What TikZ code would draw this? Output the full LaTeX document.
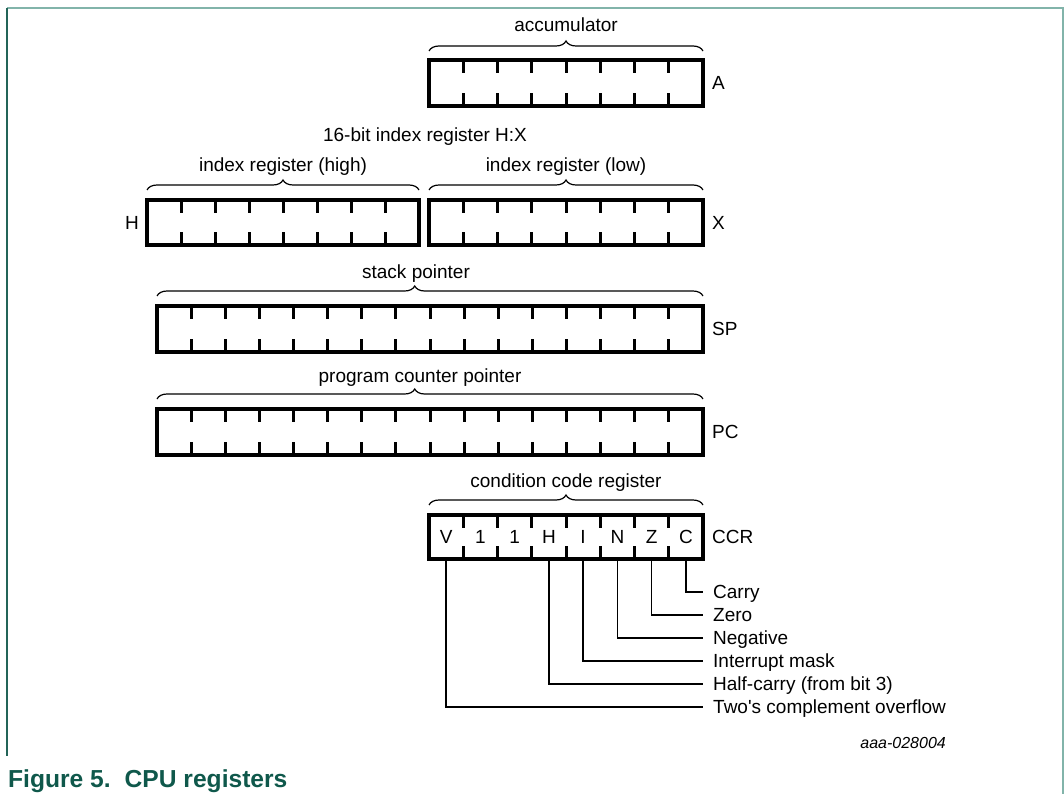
\documentclass[tikz,border=0pt]{standalone}
\usepackage{fontspec}
\setmainfont{Liberation Sans}
\newfontfamily\lsans{Liberation Sans}
\usetikzlibrary{calc,decorations.pathreplacing}
\definecolor{nxpdark}{RGB}{15,88,75}
\definecolor{framelight}{RGB}{130,180,170}
\definecolor{frameleft}{RGB}{35,100,88}
\tikzset{
 reg/.style={draw, line width=3.3pt, minimum height=46pt, inner sep=0pt, outer sep=0pt},
 regtick/.style={line width=3pt},
 brc/.style={decorate, decoration={brace, amplitude=10pt, #1}, line width=1.2pt},
 brc/.default={aspect=0.5},
 lbl/.style={font=\lsans\fontsize{19}{23}\selectfont, inner sep=0pt, anchor=base},
 rname/.style={font=\lsans\fontsize{19}{23}\selectfont, inner sep=0pt},
 leader/.style={line width=1.4pt},
 flag/.style={font=\lsans\fontsize{19}{23}\selectfont, anchor=west, inner xsep=10pt, inner ysep=0pt, text height=13.6pt, text depth=0pt},
}
\newcommand\drawregticks[2]{%
  \pgfmathtruncatemacro\lastt{#2-1}%
  \foreach \i in {1,...,\lastt}{%
    \draw[regtick] ($(#1.north west)!\i/#2!(#1.north east)$) -- ++(0,13);
    \draw[regtick] ($(#1.south west)!\i/#2!(#1.south east)$) -- ++(0,-13);
  }}
\begin{document}
\begin{tikzpicture}[x=1pt,y=-1pt]
\useasboundingbox (0,0) rectangle (1064,794);
% frame
\draw[framelight, line width=1.5pt] (7,8) -- (1063,8) -- (1063,794);
\draw[frameleft, line width=2pt] (7,8) -- (7,756);

% registers
\node[reg, minimum width=274pt] (A) at (566,83) {};
\node[reg, minimum width=272pt, minimum height=45pt] (H) at (283,222.5) {};
\node[reg, minimum width=274pt, minimum height=45pt] (X) at (566,222.5) {};
\node[reg, minimum width=546pt] (SP) at (430,329) {};
\node[reg, minimum width=546pt] (PC) at (430,432) {};
\node[reg, minimum width=274pt, minimum height=44pt] (CCR) at (566,537) {};

\drawregticks{A}{8}
\drawregticks{H}{8}
\drawregticks{X}{8}
\drawregticks{SP}{16}
\drawregticks{PC}{16}
\drawregticks{CCR}{8}

% braces
\draw[brc] ([yshift=9pt]A.north west) -- ([yshift=9pt]A.north east);
\draw[brc] ([yshift=10pt]H.north west) -- ([yshift=10pt]H.north east);
\draw[brc] ([yshift=10pt]X.north west) -- ([yshift=10pt]X.north east);
\draw[brc={aspect=0.472}] ([yshift=10pt]SP.north west) -- ([yshift=10pt]SP.north east);
\draw[brc={aspect=0.472}] ([yshift=10pt]PC.north west) -- ([yshift=10pt]PC.north east);
\draw[brc] ([yshift=10pt]CCR.north west) -- ([yshift=10pt]CCR.north east);

% labels
\node[lbl] (accl) at (566,32) {accumulator};
\node[lbl] (hxl) at (425,142) {16-bit index register H:X};
\node[lbl] (hl) at (283,172) {index register (high)};
\node[lbl] (xl) at (566,172) {index register (low)};
\node[lbl] (spl) at (416,278) {stack pointer};
\node[lbl] (pcl) at (420,382) {program counter pointer};
\node[lbl] (ccrl) at (566,487) {condition code register};

% register names
\node[rname, anchor=west] (An) at ([xshift=9pt]A.east) {A};
\node[rname, anchor=east] (Hn) at ([xshift=-8pt]H.west) {H};
\node[rname, anchor=west] (Xn) at ([xshift=9pt]X.east) {X};
\node[rname, anchor=west] (SPn) at ([xshift=9pt]SP.east) {SP};
\node[rname, anchor=west] (PCn) at ([xshift=9pt]PC.east) {PC};
\node[rname, anchor=west] (CCRn) at ([xshift=9pt]CCR.east) {CCR};

% CCR bits
\foreach \t [count=\k] in {V,1,1,H,I,N,Z,C}{%
  \pgfmathsetmacro\fr{(\k-0.5)/8}
  \node[rname, anchor=base] (b\k) at ($(CCR.west)!\fr!(CCR.east)+(0,6)$) {\t};
  \coordinate (cb\k) at ($(CCR.south west)!\fr!(CCR.south east)$);
}

% flag descriptions
\node[flag] (carry) at (703,592) {Carry};
\node[flag] (zero) at (703,615) {Zero};
\node[flag] (neg) at (703,638) {Negative};
\node[flag] (intm) at (703,661) {Interrupt mask};
\node[flag] (half) at (703,684) {Half-carry (from bit 3)};
\node[flag] (ovf) at (703,707) {Two's complement overflow};

\draw[leader] (cb8) |- (carry.west);
\draw[leader] (cb7) |- (zero.west);
\draw[leader] (cb6) |- (neg.west);
\draw[leader] (cb5) |- (intm.west);
\draw[leader] (cb4) |- (half.west);
\draw[leader] (cb1) |- (ovf.west);

% id and caption
\node[font=\lsans\itshape\fontsize{16}{19}\selectfont, inner sep=0pt, anchor=base east] (fid) at (946,748) {aaa-028004};
\node[font=\lsans\bfseries\fontsize{24.6}{28}\selectfont, text=nxpdark, inner sep=0pt, anchor=base west] (cap) at (8,787.5) {Figure 5.\hspace{14pt}CPU registers};
\end{tikzpicture}
\end{document}
